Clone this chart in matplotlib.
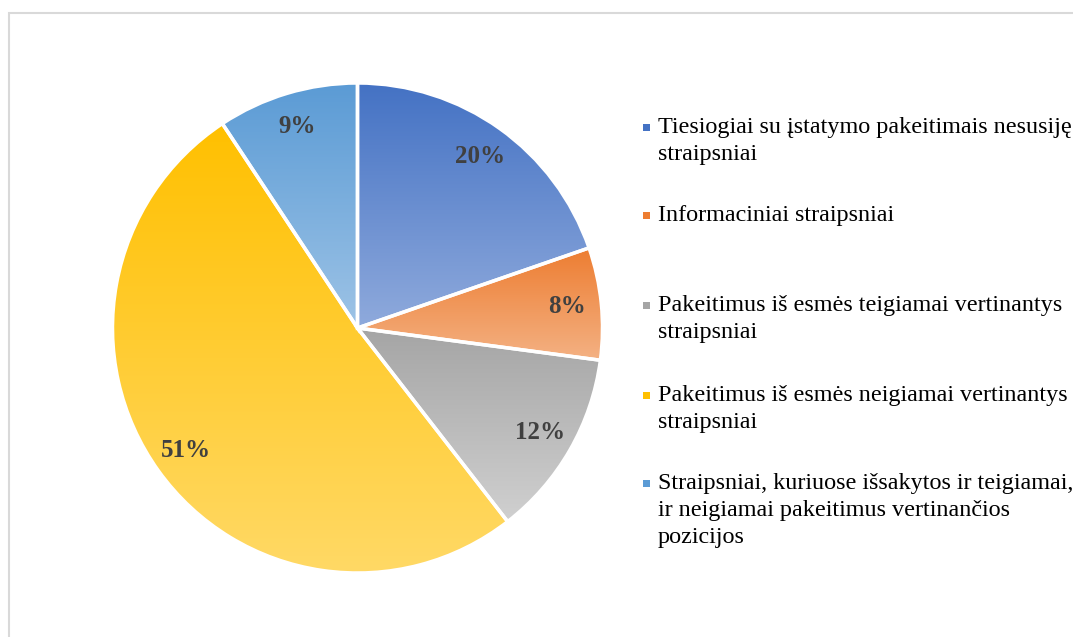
import matplotlib
matplotlib.use("Agg")
import matplotlib.pyplot as plt
from matplotlib.colors import LinearSegmentedColormap
from matplotlib.patches import Rectangle
import numpy as np

# slice shares (clockwise from 12 o'clock)
categories = [
    "Tiesiogiai su įstatymo pakeitimais nesusiję\nstraipsniai",
    "Informaciniai straipsniai",
    "Pakeitimus iš esmės teigiamai vertinantys\nstraipsniai",
    "Pakeitimus iš esmės neigiamai vertinantys\nstraipsniai",
    "Straipsniai, kuriuose išsakytos ir teigiamai,\nir neigiamai pakeitimus vertinančios\npozicijos",
]
shares = [19.7, 7.4, 12.4, 51.2, 9.3]
pct_labels = ["20%", "8%", "12%", "51%", "9%"]

# gradient top -> bottom for each slice
top_colors = ["#4472C4", "#ED7D31", "#A5A5A5", "#FFC000", "#5B9BD5"]
bottom_colors = ["#8FAADC", "#F4B183", "#D0D0D0", "#FFD966", "#9DC3E6"]

W, H = 1073, 637
fig = plt.figure(figsize=(W / 100, H / 100), dpi=100)
ax = fig.add_axes([0, 0, 1, 1])

# light grey chart-area frame (runs off right and bottom edges)
ax.add_patch(Rectangle((8.5, -20), W + 40, H - 12.5 + 20, fill=False,
                       edgecolor="#D9D9D9", lw=1.5, zorder=0))

cx, cy, r = 357.5, H - 328, 245
wedges, _ = ax.pie(shares, startangle=90, counterclock=False,
                   center=(cx, cy), radius=r, frame=True,
                   wedgeprops=dict(facecolor="none", edgecolor="white",
                                   linewidth=2.5, zorder=3))

grad = np.linspace(0, 1, 256).reshape(-1, 1)
for i, w in enumerate(wedges):
    verts = w.get_path().vertices
    x0, x1 = verts[:, 0].min(), verts[:, 0].max()
    y0, y1 = verts[:, 1].min(), verts[:, 1].max()
    cmap = LinearSegmentedColormap.from_list("g%d" % i, [top_colors[i], bottom_colors[i]])
    im = ax.imshow(grad, cmap=cmap, extent=(x0, x1, y0, y1), origin="upper",
                   aspect="auto", zorder=2, interpolation="bilinear")
    im.set_clip_path(w)

    mid = np.deg2rad((w.theta1 + w.theta2) / 2)
    ax.text(cx + 0.86 * r * np.cos(mid), cy + 0.86 * r * np.sin(mid), pct_labels[i],
            ha="center", va="center", fontsize=18, fontweight="bold",
            family="Liberation Serif", color="#404040", zorder=4)

ax.set_xlim(0, W)
ax.set_ylim(0, H)
ax.set_aspect("equal")
ax.axis("off")

# legend drawn by hand, Excel-style on the right
legend_base = [133, 221, 311, 401, 489]
line_step = 26.8
for i, lab in enumerate(categories):
    y = H - legend_base[i]
    ax.add_patch(Rectangle((643, y + 2.5), 7, 7, facecolor=top_colors[i],
                           edgecolor="none", zorder=3))
    for k, line in enumerate(lab.split("\n")):
        ax.text(658, y - k * line_step, line, ha="left", va="baseline",
                fontsize=17.4, family="Liberation Serif", color="black",
                zorder=3)

fig.savefig("out.png", dpi=100, facecolor="white")
